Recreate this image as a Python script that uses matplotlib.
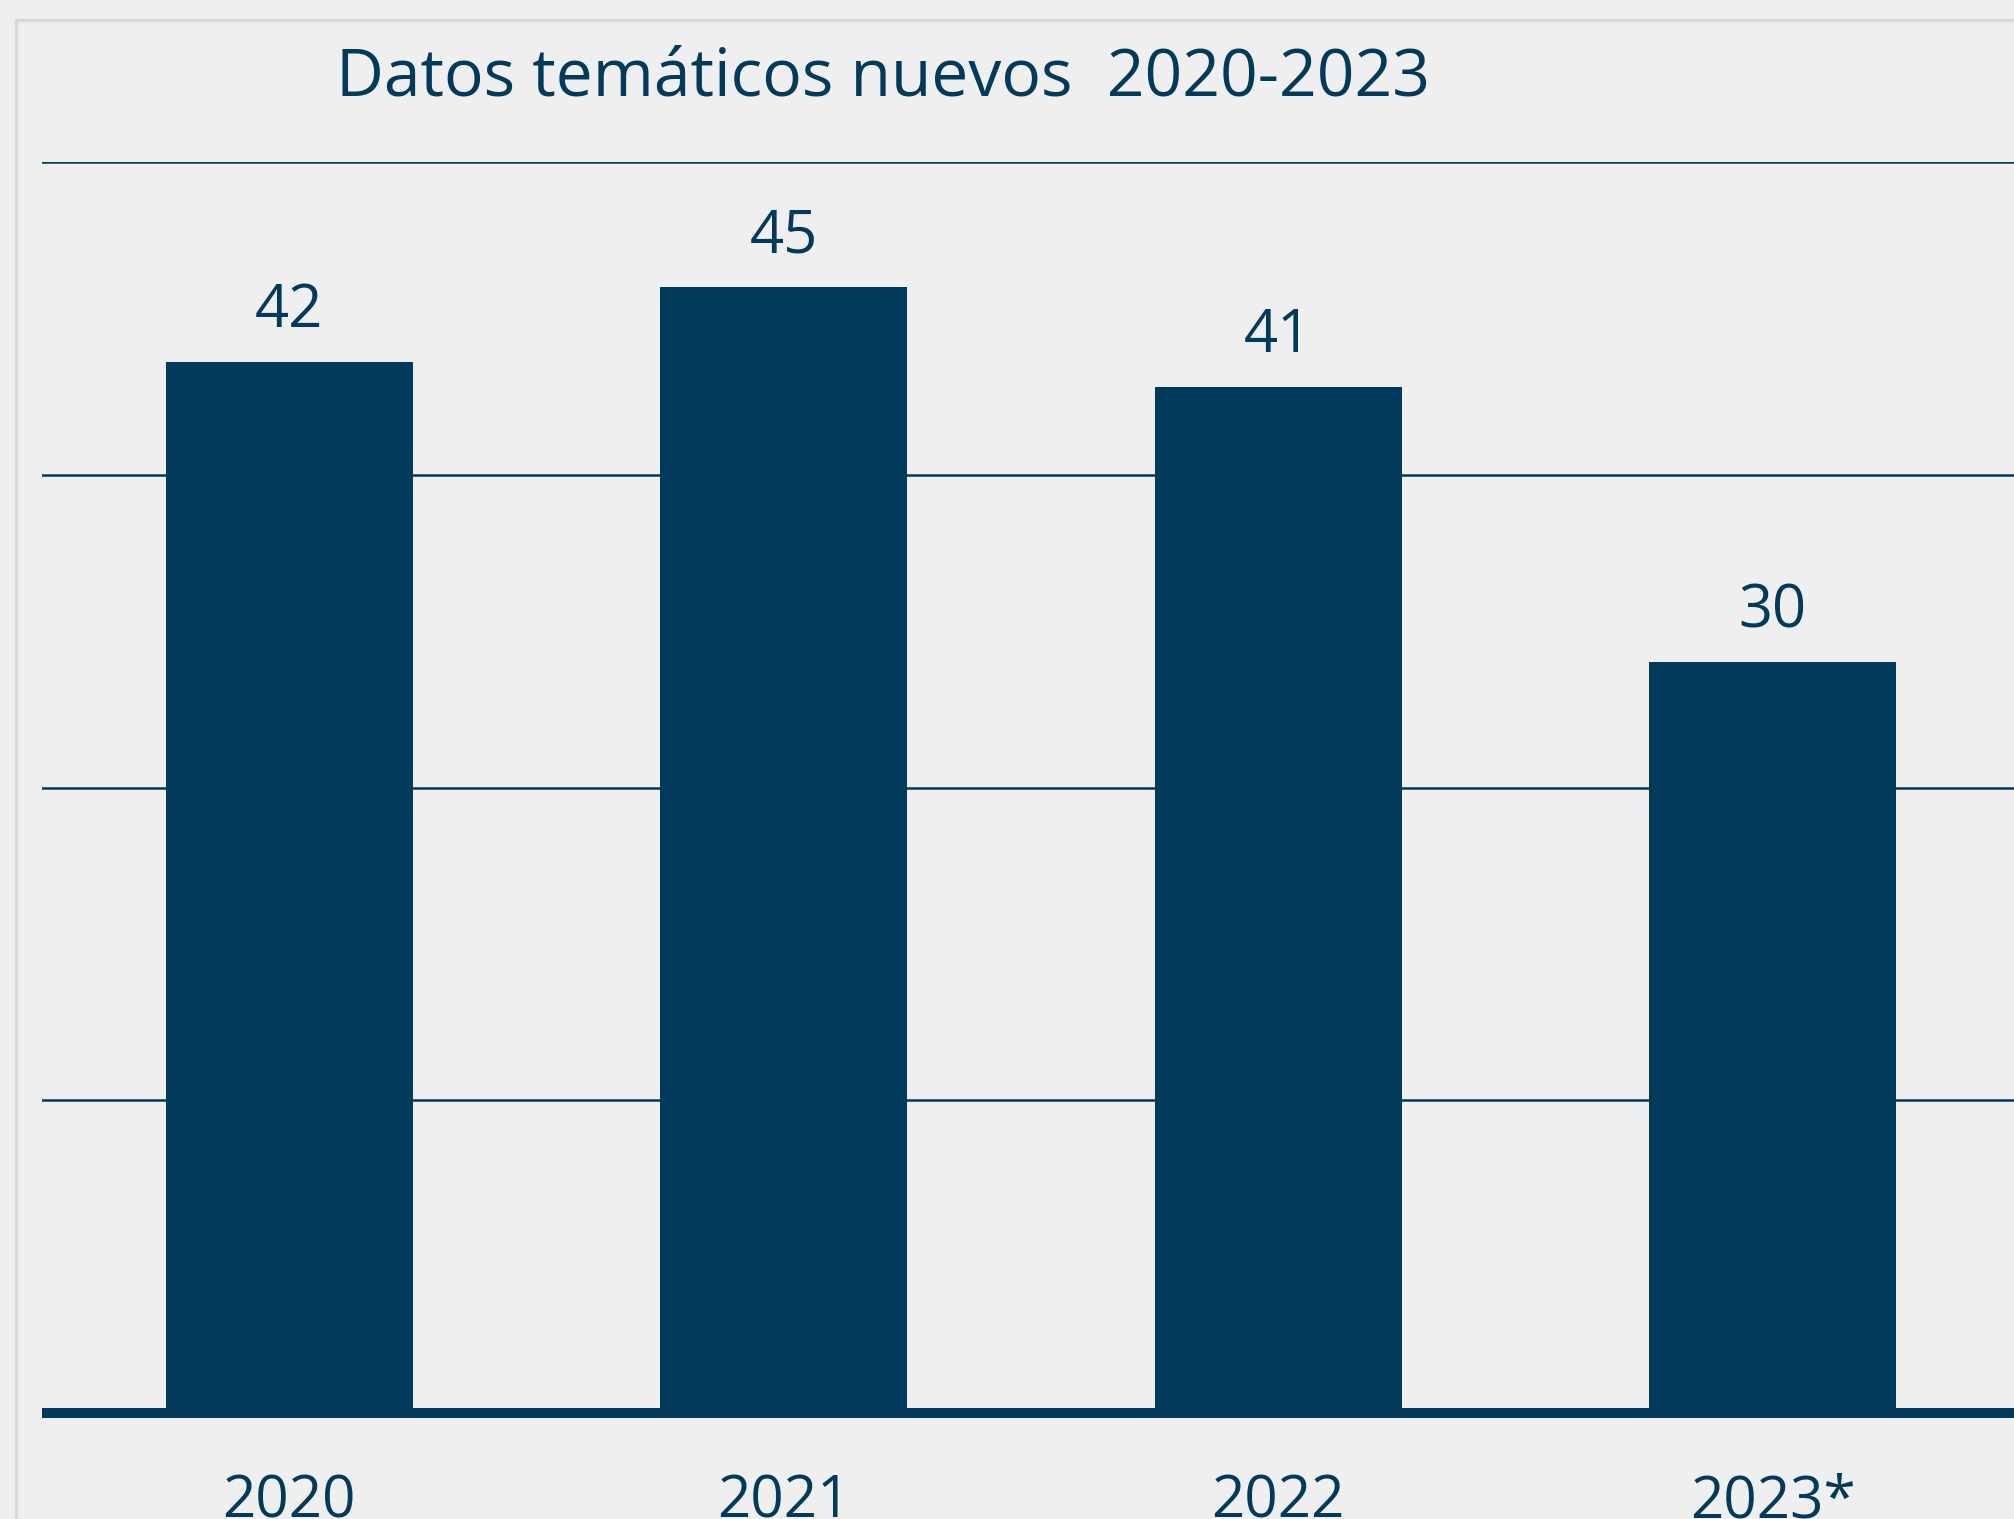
import matplotlib.pyplot as plt
from matplotlib.patches import Rectangle

# data
years = ['2020', '2021', '2022', '2023*']
values = [42, 45, 41, 30]
grid_ticks = [12.5, 25, 37.5, 50]

navy = '#023a5b'
bg = '#efefef'

plt.rcParams['font.family'] = ['Open Sans', 'DejaVu Sans']

fig = plt.figure(figsize=(20.14, 15.19), dpi=100, facecolor=bg)

# thin frame of the slide
fig.patches.append(Rectangle((16 / 2014, -0.1), 1.2, 1.1 - 20 / 1519, transform=fig.transFigure,
                             fill=False, edgecolor='#d9d9d9', linewidth=2.5, zorder=0))

ax = fig.add_axes([42 / 2014, 1 - 1413 / 1519, 1978 / 2014, (1413 - 162) / 1519])
ax.set_facecolor('none')

x = range(len(years))
ax.bar(x, values, width=0.5, color=navy, zorder=3)

for xi, v in zip(x, values):
    ax.annotate(str(v), (xi, v), xytext=(0, 15), textcoords='offset points',
                ha='center', va='bottom', fontsize=43, color=navy)

ax.set_xlim(-0.5, 3.5)
ax.set_ylim(0, 50)
ax.set_yticks(grid_ticks)
ax.set_yticklabels([])
ax.tick_params(axis='y', length=0)
ax.grid(axis='y', color=navy, linewidth=1.8, zorder=1)
ax.set_axisbelow(True)

# the year labels sit partly below the bottom edge, as in the reference
ax.set_xticks(list(x))
ax.set_xticklabels(years, fontsize=42, color=navy)
ax.tick_params(axis='x', length=0, pad=43)

for side in ['top', 'left', 'right']:
    ax.spines[side].set_visible(False)
ax.spines['bottom'].set_color(navy)
ax.spines['bottom'].set_linewidth(7.2)
ax.spines['bottom'].set_capstyle('butt')
ax.spines['bottom'].set_zorder(4)

fig.text(883 / 2014, 1 - 79 / 1519, 'Datos temáticos nuevos  2020-2023',
         ha='center', va='center', fontsize=47.5, color=navy)

fig.savefig('out.png', dpi=100, facecolor=bg)
